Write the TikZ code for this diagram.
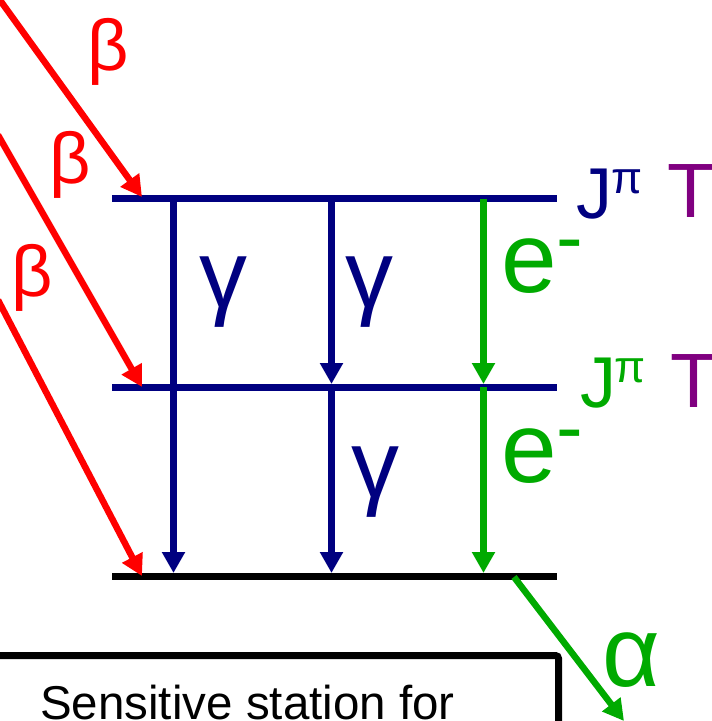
\documentclass[tikz,border=0pt]{standalone}
\usepackage{fontspec}
\setmainfont{Liberation Sans}
\usetikzlibrary{arrows.meta}
\definecolor{navy}{RGB}{0,0,128}
\definecolor{grn}{RGB}{0,170,0}
\definecolor{purp}{RGB}{128,0,128}
\begin{document}
\begin{tikzpicture}[x=1pt,y=-1pt,
  lvl/.style={line width=7pt},
  tr/.style={line width=6.5pt,-{Triangle[width=22pt,length=21pt]}},
  lbl/.style={inner sep=0pt,anchor=base},
  fbeta/.style={font=\fontsize{72}{80}\selectfont},
  fgam/.style={font=\fontsize{96}{100}\selectfont},
  fbig/.style={font=\fontsize{100}{110}\selectfont},
  fJ/.style={font=\fontsize{72}{80}\selectfont},
  fpi/.style={font=\fontsize{45}{50}\selectfont},
  fT/.style={font=\fontsize{77}{80}\selectfont}]
\useasboundingbox (0,0) rectangle (712,721);
\clip (0,0) rectangle (712,721);
% level lines
\coordinate (L1a) at (112,198.5); \coordinate (L1b) at (557,198.5);
\coordinate (L2a) at (112,387);   \coordinate (L2b) at (557,387);
\coordinate (L3a) at (112,576.5); \coordinate (L3b) at (557,576.5);
\draw[lvl,navy] (L1a) -- (L1b);
\draw[lvl,navy] (L2a) -- (L2b);
\draw[lvl,black] (L3a) -- (L3b);
% gamma transitions
\coordinate (v1t) at (173.5,198.5); \coordinate (v1b) at (173.5,573);
\coordinate (v2t) at (331.5,198.5); \coordinate (v2m) at (331.5,384);
\coordinate (v2n) at (331.5,387);   \coordinate (v2b) at (331.5,573);
\draw[tr,navy] (v1t) -- (v1b);
\draw[tr,navy] (v2t) -- (v2m);
\draw[tr,navy] (v2n) -- (v2b);
% conversion electrons
\coordinate (e1t) at (483.5,198.5); \coordinate (e1m) at (483.5,384);
\coordinate (e1n) at (483.5,387);   \coordinate (e1b) at (483.5,573);
\draw[tr,grn] (e1t) -- (e1m);
\draw[tr,grn] (e1n) -- (e1b);
% beta feeding
\coordinate (r1s) at (-3,-4);  \coordinate (r1e) at (142,197);
\coordinate (r2s) at (-2,135); \coordinate (r2e) at (142,387);
\coordinate (r3s) at (-2,300); \coordinate (r3e) at (142,576);
\draw[tr,red] (r1s) -- (r1e);
\draw[tr,red] (r2s) -- (r2e);
\draw[tr,red] (r3s) -- (r3e);
% alpha
\coordinate (as) at (514,577); \coordinate (ae) at (624,721);
\draw[tr,grn] (as) -- (ae);
% box
\draw[line width=7pt,rounded corners=3pt] (-20,655.5) rectangle (558.5,820);
\node[lbl,anchor=base west,font=\fontsize{47.5}{52}\selectfont] (txt) at (40,719) {Sensitive station for};
% labels
\node[lbl,fbeta,red] (b1) at (108,70) {β};
\node[lbl,fbeta,red] (b2) at (70,183) {β};
\node[lbl,fbeta,red] (b3) at (32,296) {β};
\node[lbl,fgam,navy] (g1) at (223.5,307) {γ};
\node[lbl,fgam,navy] (g2) at (369.5,307) {γ};
\node[lbl,fgam,navy] (g3) at (375,497) {γ};
\node[lbl,anchor=base west,fbig,grn] (ee1) at (501,292) {e\raisebox{28pt}{\fontsize{80}{80}\selectfont -}};
\node[lbl,anchor=base west,fbig,grn] (ee2) at (501,482) {e\raisebox{28pt}{\fontsize{80}{80}\selectfont -}};
\node[lbl,fbig,grn] (al) at (631.5,686) {α};
\node[lbl,fJ,navy] (J1) at (594,218) {J};
\node[lbl,fpi,navy] (p1) at (627.5,193) {π};
\node[lbl,fT,purp] (T1) at (691.5,217) {T};
\node[lbl,fJ,grn] (J2) at (598,407) {J};
\node[lbl,fpi,grn] (p2) at (630.5,382) {π};
\node[lbl,fT,purp] (T2) at (694,407) {T};
\end{tikzpicture}
\end{document}
